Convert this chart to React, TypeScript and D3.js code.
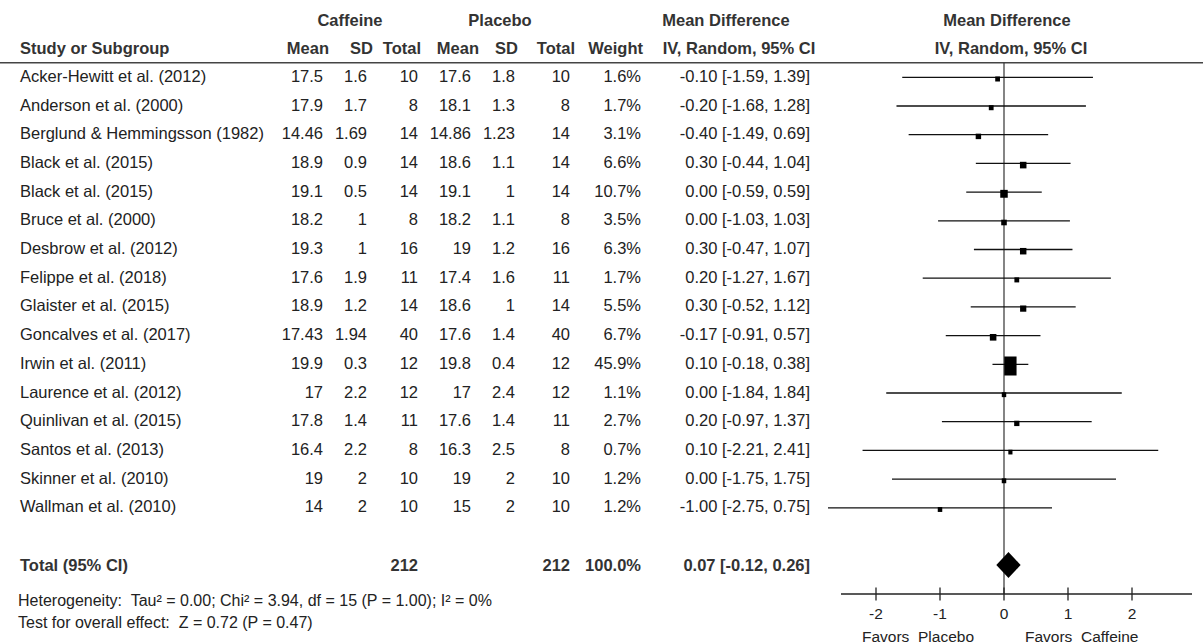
import React from "react";
import * as d3 from "d3";

// Study-level data
const studies = [
  "Acker-Hewitt et al. (2012)",
  "Anderson et al. (2000)",
  "Berglund & Hemmingsson (1982)",
  "Black et al. (2015)",
  "Black et al. (2015)",
  "Bruce et al. (2000)",
  "Desbrow et al. (2012)",
  "Felippe et al. (2018)",
  "Glaister et al. (2015)",
  "Goncalves et al. (2017)",
  "Irwin et al. (2011)",
  "Laurence et al. (2012)",
  "Quinlivan et al. (2015)",
  "Santos et al. (2013)",
  "Skinner et al. (2010)",
  "Wallman et al. (2010)",
];
const caffeineMean = [17.5, 17.9, 14.46, 18.9, 19.1, 18.2, 19.3, 17.6, 18.9, 17.43, 19.9, 17, 17.8, 16.4, 19, 14];
const caffeineSD = [1.6, 1.7, 1.69, 0.9, 0.5, 1, 1, 1.9, 1.2, 1.94, 0.3, 2.2, 1.4, 2.2, 2, 2];
const caffeineN = [10, 8, 14, 14, 14, 8, 16, 11, 14, 40, 12, 12, 11, 8, 10, 10];
const placeboMean = [17.6, 18.1, 14.86, 18.6, 19.1, 18.2, 19, 17.4, 18.6, 17.6, 19.8, 17, 17.6, 16.3, 19, 15];
const placeboSD = [1.8, 1.3, 1.23, 1.1, 1, 1.1, 1.2, 1.6, 1, 1.4, 0.4, 2.4, 1.4, 2.5, 2, 2];
const placeboN = [10, 8, 14, 14, 14, 8, 16, 11, 14, 40, 12, 12, 11, 8, 10, 10];
const weight = [1.6, 1.7, 3.1, 6.6, 10.7, 3.5, 6.3, 1.7, 5.5, 6.7, 45.9, 1.1, 2.7, 0.7, 1.2, 1.2];
const meanDiff = [-0.1, -0.2, -0.4, 0.3, 0, 0, 0.3, 0.2, 0.3, -0.17, 0.1, 0, 0.2, 0.1, 0, -1];
const ciLow = [-1.59, -1.68, -1.49, -0.44, -0.59, -1.03, -0.47, -1.27, -0.52, -0.91, -0.18, -1.84, -0.97, -2.21, -1.75, -2.75];
const ciHigh = [1.39, 1.28, 0.69, 1.04, 0.59, 1.03, 1.07, 1.67, 1.12, 0.57, 0.38, 1.84, 1.37, 2.41, 1.75, 0.75];

// Pooled estimate
const totalCaffeineN = 212;
const totalPlaceboN = 212;
const totalWeight = 100;
const pooledMD = 0.07;
const pooledLow = -0.12;
const pooledHigh = 0.26;

const axisTicks = [-2, -1, 0, 1, 2];
const heterogeneityText = "Heterogeneity:  Tau\u00B2 = 0.00; Chi\u00B2 = 3.94, df = 15 (P = 1.00); I\u00B2 = 0%";
const overallEffectText = "Test for overall effect:  Z = 0.72 (P = 0.47)";

const W = 1203;
const H = 642;
const FONT = "'Liberation Sans', Arial, Helvetica, sans-serif";
const FS = 16.5;
const TXT = "#222";
const HDR = "#333";

const fmt2 = (v: number) => v.toFixed(2);
const ciLabel = (m: number, l: number, h: number) => `${fmt2(m)} [${fmt2(l)}, ${fmt2(h)}]`;

export default function App() {
  const x = d3.scaleLinear().domain([-2, 2]).range([876, 1132]);
  const rowY = d3
    .scaleLinear()
    .domain([0, studies.length - 1])
    .range([77.3, 77.3 + 28.7 * (studies.length - 1)]);
  const sqW = d3.scaleSqrt().domain([0, 45.9]).range([3, 12.3]);
  const sqH = d3.scaleLinear().domain([0, 45.9]).range([4.5, 19]);

  const headerLineY = 62.7;
  const axisY = 594;
  const totalY = 565;
  const zeroX = x(0);

  // right-aligned table columns
  const col = {
    cMean: 323,
    cSD: 367,
    cN: 418,
    pMean: 471,
    pSD: 515,
    pN: 570,
    w: 641,
    ci: 810,
  };

  const textBase = { fontFamily: FONT, fontSize: FS, fill: TXT } as const;
  const bold = { fontFamily: FONT, fontSize: FS, fill: HDR, fontWeight: 700 } as const;

  return (
    <svg
      width={W}
      height={H}
      viewBox={`0 0 ${W} ${H}`}
      style={{ position: "fixed", left: 0, top: 0, background: "#fff" }}
    >
      <rect x={0} y={0} width={W} height={H} fill="#fff" />

      {/* group headers */}
      <text x={350} y={26} textAnchor="middle" {...bold}>Caffeine</text>
      <text x={500} y={26} textAnchor="middle" {...bold}>Placebo</text>
      <text x={726} y={26} textAnchor="middle" {...bold}>Mean Difference</text>
      <text x={1007} y={26} textAnchor="middle" {...bold}>Mean Difference</text>

      {/* column headers */}
      <text x={20} y={54} {...bold}>Study or Subgroup</text>
      <text x={329} y={54} textAnchor="end" {...bold}>Mean</text>
      <text x={373} y={54} textAnchor="end" {...bold}>SD</text>
      <text x={421} y={54} textAnchor="end" {...bold}>Total</text>
      <text x={479} y={54} textAnchor="end" {...bold}>Mean</text>
      <text x={518} y={54} textAnchor="end" {...bold}>SD</text>
      <text x={575} y={54} textAnchor="end" {...bold}>Total</text>
      <text x={643} y={54} textAnchor="end" {...bold}>Weight</text>
      <text x={739} y={54} textAnchor="middle" {...bold}>IV, Random, 95% CI</text>
      <text x={1011} y={54} textAnchor="middle" {...bold}>IV, Random, 95% CI</text>

      <line x1={0} x2={W} y1={headerLineY} y2={headerLineY} stroke="#444" strokeWidth={1.6} />

      {/* line of no effect */}
      <line x1={zeroX} x2={zeroX} y1={headerLineY} y2={axisY} stroke="#333" strokeWidth={1.2} />

      {/* study rows */}
      {studies.map((name, i) => {
        const y = rowY(i);
        const ty = y + 4.5;
        const w = sqW(weight[i]);
        const h = sqH(weight[i]);
        return (
          <g key={i}>
            <text x={20} y={ty} {...textBase}>{name}</text>
            <text x={col.cMean} y={ty} textAnchor="end" {...textBase}>{String(caffeineMean[i])}</text>
            <text x={col.cSD} y={ty} textAnchor="end" {...textBase}>{String(caffeineSD[i])}</text>
            <text x={col.cN} y={ty} textAnchor="end" {...textBase}>{String(caffeineN[i])}</text>
            <text x={col.pMean} y={ty} textAnchor="end" {...textBase}>{String(placeboMean[i])}</text>
            <text x={col.pSD} y={ty} textAnchor="end" {...textBase}>{String(placeboSD[i])}</text>
            <text x={col.pN} y={ty} textAnchor="end" {...textBase}>{String(placeboN[i])}</text>
            <text x={col.w} y={ty} textAnchor="end" {...textBase}>{weight[i].toFixed(1) + "%"}</text>
            <text x={col.ci} y={ty} textAnchor="end" {...textBase}>{ciLabel(meanDiff[i], ciLow[i], ciHigh[i])}</text>
            <line x1={x(ciLow[i])} x2={x(ciHigh[i])} y1={y} y2={y} stroke="#111" strokeWidth={1.3} />
            <rect x={x(meanDiff[i]) - w / 2} y={y + 1.7 - h / 2} width={w} height={h} fill="#000" />
          </g>
        );
      })}

      {/* pooled row */}
      <text x={20} y={571} {...bold}>Total (95% CI)</text>
      <text x={col.cN} y={571} textAnchor="end" {...bold}>{String(totalCaffeineN)}</text>
      <text x={col.pN} y={571} textAnchor="end" {...bold}>{String(totalPlaceboN)}</text>
      <text x={col.w} y={571} textAnchor="end" {...bold}>{totalWeight.toFixed(1) + "%"}</text>
      <text x={col.ci} y={571} textAnchor="end" {...bold}>{ciLabel(pooledMD, pooledLow, pooledHigh)}</text>
      <polygon
        points={[
          [x(pooledLow), totalY],
          [x(pooledMD), totalY - 13],
          [x(pooledHigh), totalY],
          [x(pooledMD), totalY + 13],
        ]
          .map((p) => p.join(","))
          .join(" ")}
        fill="#000"
      />

      <text x={18} y={606} fontFamily={FONT} fontSize={16} fill={TXT} style={{ whiteSpace: "pre" }}>{heterogeneityText}</text>
      <text x={18} y={628} fontFamily={FONT} fontSize={16} fill={TXT} style={{ whiteSpace: "pre" }}>{overallEffectText}</text>

      {/* axis */}
      <line x1={841} x2={1192} y1={axisY} y2={axisY} stroke="#222" strokeWidth={1.3} />
      {axisTicks.map((t) => (
        <g key={t}>
          <line x1={x(t)} x2={x(t)} y1={axisY - 6.5} y2={axisY + 6.5} stroke="#222" strokeWidth={1.3} />
          <text x={x(t)} y={618.5} textAnchor="middle" fontFamily={FONT} fontSize={15.5} fill={TXT}>
            {String(t)}
          </text>
        </g>
      ))}
      <text x={974} y={642} textAnchor="end" fontFamily={FONT} fontSize={15.5} fill={TXT} style={{ whiteSpace: "pre" }}>Favors  Placebo</text>
      <text x={1025} y={642} fontFamily={FONT} fontSize={15.5} fill={TXT} style={{ whiteSpace: "pre" }}>Favors  Caffeine</text>
    </svg>
  );
}
